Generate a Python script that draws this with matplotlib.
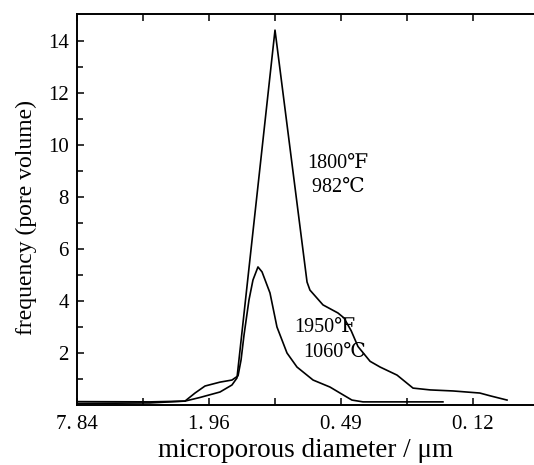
import matplotlib
matplotlib.use("Agg")
import matplotlib.pyplot as plt
from matplotlib.ticker import FixedLocator, NullLocator, FixedFormatter

plt.rcParams['font.family'] = ['Liberation Serif', 'DejaVu Serif', 'Noto Sans CJK SC']

# Data (diameter in um, frequency)
d_1800 = [7.84, 3.643, 2.522, 2.154, 1.746, 1.540, 1.461, 0.98, 0.700, 0.679, 0.592,
          0.506, 0.475, 0.440, 0.410, 0.361, 0.325, 0.272, 0.230, 0.192, 0.151, 0.114, 0.102, 0.0857]
f_1800 = [0.06, 0.08, 0.15, 0.29, 0.50, 0.77, 1.04, 14.42, 4.73, 4.42, 3.85,
          3.54, 3.35, 2.85, 2.25, 1.68, 1.46, 1.15, 0.65, 0.58, 0.54, 0.46, 0.35, 0.19]

d_1950 = [7.84, 3.643, 2.522, 2.270, 2.044, 1.746, 1.540, 1.445, 1.400, 1.357, 1.288,
          1.235, 1.172, 1.123, 1.033, 0.960, 0.864, 0.778, 0.657, 0.550, 0.495, 0.437,
          0.389, 0.168]
f_1950 = [0.13, 0.12, 0.15, 0.46, 0.73, 0.88, 0.96, 1.12, 1.73, 2.69, 4.04,
          4.81, 5.31, 5.12, 4.31, 3.00, 2.00, 1.46, 0.96, 0.69, 0.46, 0.19,
          0.12, 0.12]

x_ticks = [7.84, 3.92, 1.96, 0.98, 0.49, 0.245, 0.1225]
x_labels = ["7. 84", "", "1. 96", "", "0. 49", "", "0. 12"]
y_ticks = [2, 4, 6, 8, 10, 12, 14]
y_minor = [1, 3, 5, 7, 9, 11, 13]

fig = plt.figure(figsize=(5.34, 4.65), dpi=100)
ax = fig.add_axes([77/534, 60/465, 457/534, 391/465])

ax.plot(d_1800, f_1800, color='black', lw=1.2)
ax.plot(d_1950, f_1950, color='black', lw=1.2)

ax.set_xscale('log', base=2)
ax.set_xlim(7.84, 7.84 / 2 ** (457 / 66))
ax.set_ylim(0, 15.04)

ax.xaxis.set_major_locator(FixedLocator(x_ticks))
ax.xaxis.set_major_formatter(FixedFormatter(x_labels))
ax.xaxis.set_minor_locator(NullLocator())
ax.yaxis.set_major_locator(FixedLocator(y_ticks))
ax.yaxis.set_minor_locator(FixedLocator(y_minor))

ax.tick_params(axis='x', which='both', direction='in', top=True, length=5, width=1.1,
               labelsize=15, pad=7)
ax.tick_params(axis='y', which='major', direction='in', length=5, width=1.1,
               labelsize=15, pad=6)
ax.tick_params(axis='y', which='minor', direction='in', length=4, width=1.1)

ax.spines['right'].set_visible(False)
for s in ['left', 'top', 'bottom']:
    ax.spines[s].set_linewidth(1.4)

ax.set_xlabel('microporous diameter / μm', fontsize=19.5, labelpad=3)
ax.set_ylabel('frequency (pore volume)', fontsize=17)
ax.yaxis.set_label_coords(-0.088, 0.48)

ax.text(0.70, 9.3, '1800℉', fontsize=14.5, ha='left', va='center')
ax.text(0.70, 8.35, ' 982℃', fontsize=14.5, ha='left', va='center')
ax.text(0.80, 2.98, '1950℉', fontsize=14.5, ha='left', va='center')
ax.text(0.73, 2.02, '1060℃', fontsize=14.5, ha='left', va='center')

fig.savefig('out.png', dpi=100)
